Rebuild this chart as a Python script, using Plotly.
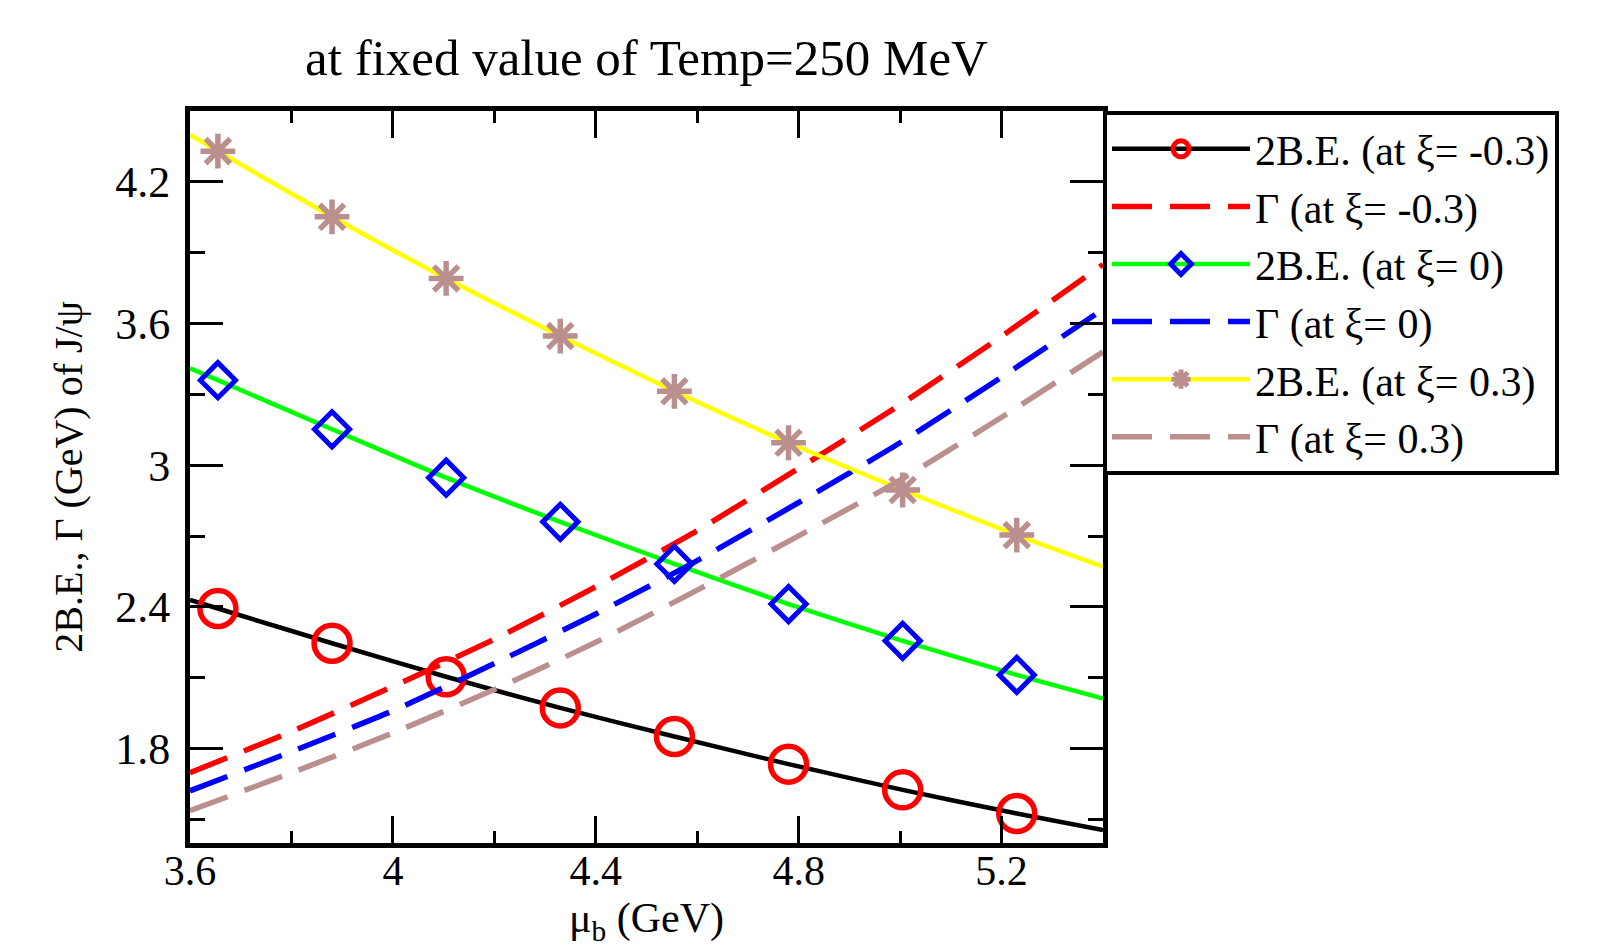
import plotly.graph_objects as go

# ---- data ----
mu_pts = [3.655, 3.88, 4.105, 4.33, 4.555, 4.78, 5.005, 5.23]
be_xi_m03 = [2.393, 2.246, 2.104, 1.972, 1.851, 1.734, 1.625, 1.525]
be_xi_0 = [3.360, 3.152, 2.947, 2.760, 2.582, 2.412, 2.256, 2.112]
be_xi_p03 = [4.330, 4.052, 3.791, 3.547, 3.313, 3.095, 2.895, 2.704]

# curve values at the axis edges (mu_b = 3.6 and 5.4)
mu_edges = [3.6, 5.4]
be_xi_m03_edges = [2.43, 1.455]
be_xi_0_edges = [3.41, 2.012]
be_xi_p03_edges = [4.40, 2.57]

mu_grid = [3.6, 3.8, 4.0, 4.2, 4.4, 4.6, 4.8, 5.0, 5.2, 5.4]
gamma_xi_m03 = [1.698, 1.872, 2.063, 2.263, 2.485, 2.723, 2.987, 3.256, 3.546, 3.85]
gamma_xi_0 = [1.621, 1.787, 1.960, 2.160, 2.370, 2.596, 2.842, 3.095, 3.373, 3.66]
gamma_xi_p03 = [1.537, 1.697, 1.866, 2.050, 2.250, 2.471, 2.701, 2.937, 3.203, 3.48]

x_major = [3.6, 4.0, 4.4, 4.8, 5.2]
x_major_text = ["3.6", "4", "4.4", "4.8", "5.2"]
x_minor = [3.8, 4.2, 4.6, 5.0]
y_major = [1.8, 2.4, 3.0, 3.6, 4.2]
y_major_text = ["1.8", "2.4", "3", "3.6", "4.2"]
y_minor = [1.5, 2.1, 2.7, 3.3, 3.9]

names = ["2B.E. (at ξ= -0.3)", "Γ (at ξ= -0.3)", "2B.E. (at ξ= 0)",
         "Γ (at ξ= 0)", "2B.E. (at ξ= 0.3)", "Γ (at ξ= 0.3)"]

FONT = "Liberation Serif"
RED, BLUE, GREEN, YELLOW, BROWN = "#ff0000", "#0000ff", "#00ff00", "#ffff00", "#bc8f8f"


def be_trace(name, vals, edges, lcolor, symbol, mcolor, msize, mlw):
    xs = [mu_edges[0]] + mu_pts + [mu_edges[1]]
    ys = [edges[0]] + vals + [edges[1]]
    sizes = [0] + [msize] * len(mu_pts) + [0]
    return go.Scatter(
        x=xs, y=ys, name=name, mode="lines+markers",
        line=dict(color=lcolor, width=4.5, shape="spline", smoothing=0.6),
        marker=dict(symbol=symbol, size=sizes, color=mcolor, opacity=1,
                    line=dict(color=mcolor, width=mlw)),
    )


def gamma_trace(name, vals, color):
    return go.Scatter(
        x=mu_grid, y=vals, name=name, mode="lines",
        line=dict(color=color, width=5.5, dash="40px,18px", shape="spline", smoothing=0.6),
    )


fig = go.Figure()
fig.add_trace(be_trace(names[0], be_xi_m03, be_xi_m03_edges, "black", "circle-open", RED, 36, 5.5))
fig.add_trace(gamma_trace(names[1], gamma_xi_m03, RED))
fig.add_trace(be_trace(names[2], be_xi_0, be_xi_0_edges, GREEN, "diamond-open", BLUE, 27, 5))
fig.add_trace(gamma_trace(names[3], gamma_xi_0, BLUE))
fig.add_trace(be_trace(names[4], be_xi_p03, be_xi_p03_edges, YELLOW, "asterisk-open", BROWN, 29, 5.5))
fig.add_trace(gamma_trace(names[5], gamma_xi_p03, BROWN))

axis_common = dict(
    showline=True, linewidth=5, linecolor="black", mirror="ticks",
    ticks="inside", tickwidth=2.5, tickcolor="black",
    showgrid=False, zeroline=False, automargin=False,
)

fig.update_xaxes(
    range=[3.6, 5.4], tickmode="array", tickvals=x_major, ticktext=x_major_text,
    ticklen=27, ticklabelstandoff=-13,
    tickfont=dict(family=FONT, size=42, color="black"),
    minor=dict(tickmode="array", tickvals=x_minor, ticks="inside", ticklen=12,
               tickwidth=2.5, tickcolor="black"),
    **axis_common,
)
fig.update_yaxes(
    range=[1.4, 4.5], tickmode="array", tickvals=y_major, ticktext=y_major_text,
    ticklen=33, ticklabelstandoff=6,
    tickfont=dict(family=FONT, size=44, color="black"),
    minor=dict(tickmode="array", tickvals=y_minor, ticks="inside", ticklen=15,
               tickwidth=2.5, tickcolor="black"),
    title=dict(text="2B.E., Γ (GeV) of J/ψ", font=dict(family=FONT, size=40, color="black"),
               standoff=22),
    **axis_common,
)

fig.update_layout(
    width=1624, height=948,
    margin=dict(l=190, r=521, t=111, b=105, autoexpand=False),
    paper_bgcolor="white", plot_bgcolor="white",
    title=dict(text="at fixed value of Temp=250 MeV", x=0.5, xref="paper", xanchor="center",
               y=1 - 57 / 948, yref="container", yanchor="middle",
               font=dict(family=FONT, size=51, color="black")),
    legend=dict(x=1.0, xanchor="left", y=1.0, yanchor="top",
                bordercolor="black", borderwidth=4, bgcolor="white",
                font=dict(family=FONT, size=42, color="black"),
                itemwidth=138, tracegroupgap=0),
    showlegend=True,
    annotations=[dict(text="μ<sub>b</sub> (GeV)", xref="paper", yref="paper",
                      x=0.5, y=0, xanchor="center", yanchor="middle", yshift=-78,
                      showarrow=False, font=dict(family=FONT, size=42, color="black"))],
)

fig.write_html("out.html", config={"displayModeBar": False},
               post_script="document.body.style.margin='0';")
